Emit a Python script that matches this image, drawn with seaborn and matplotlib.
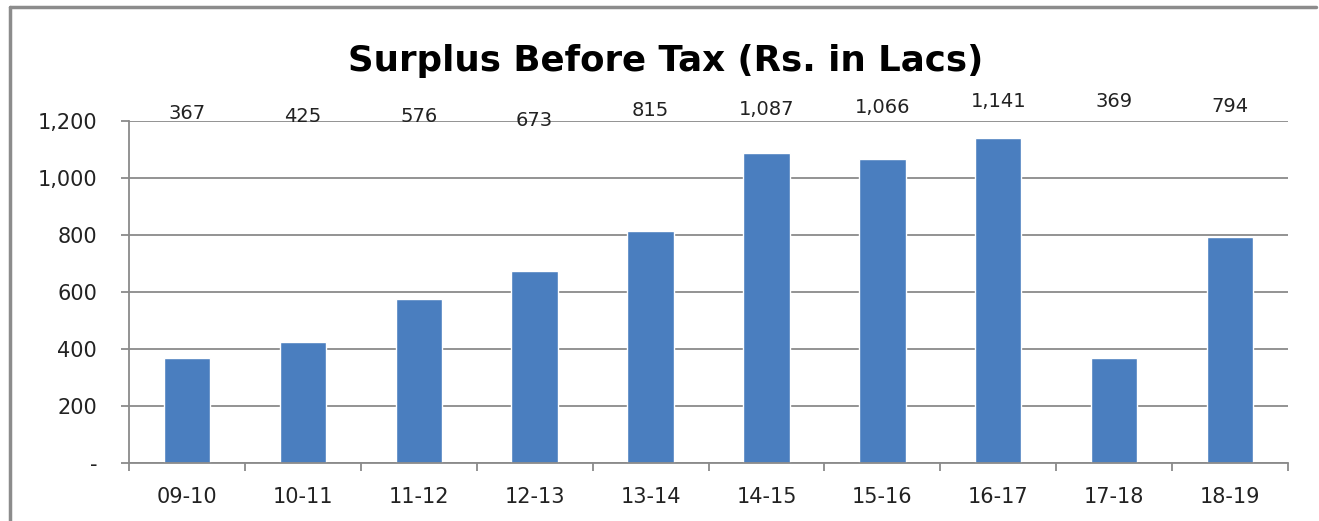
import matplotlib
matplotlib.use("Agg")
import matplotlib.pyplot as plt
from matplotlib.lines import Line2D
from matplotlib.ticker import FixedLocator, FuncFormatter
import seaborn as sns

# data
years = ["09-10", "10-11", "11-12", "12-13", "13-14",
         "14-15", "15-16", "16-17", "17-18", "18-19"]
surplus = [367, 425, 576, 673, 815, 1087, 1066, 1141, 369, 794]
# heights at which the value labels sit (they float above the plot area)
label_y = [1228, 1215, 1215, 1200, 1236, 1239, 1246, 1270, 1270, 1251]

title = "Surplus Before Tax (Rs. in Lacs)"

sns.set_style("white")
plt.rcParams["font.family"] = ["DejaVu Sans"]

fig = plt.figure(figsize=(13.19, 5.21), dpi=100)
ax = fig.add_axes([129 / 1319, 58 / 521, (1288 - 129) / 1319, (463 - 121) / 521])

sns.barplot(x=years, y=surplus, color="#4A7EBF", width=0.4, saturation=1, ax=ax)

ax.set_xlim(-0.5, len(years) - 0.5)
ax.set_ylim(0, 1200)
ax.set_yticks(range(0, 1201, 200))
ax.yaxis.set_major_formatter(FuncFormatter(lambda v, p: "-" if v == 0 else f"{int(v):,}"))
ax.grid(axis="y", color="#8A8A8A", linewidth=1.3)
ax.set_axisbelow(True)
ax.set_xlabel("")
ax.set_ylabel("")

for side in ["top", "right"]:
    ax.spines[side].set_visible(False)
for side in ["left", "bottom"]:
    ax.spines[side].set_color("#8A8A8A")
    ax.spines[side].set_linewidth(1.3)

ax.xaxis.set_minor_locator(FixedLocator([i - 0.5 for i in range(len(years) + 1)]))
ax.tick_params(axis="x", which="major", length=0, pad=17.5, labelsize=15, colors="#222222")
ax.tick_params(axis="x", which="minor", length=6, width=1.3, color="#8A8A8A", bottom=True)
ax.tick_params(axis="y", which="major", length=6, width=1.3, color="#8A8A8A", pad=17,
               labelsize=15, labelcolor="#222222", left=True)

for i, (v, ly) in enumerate(zip(surplus, label_y)):
    ax.text(i, ly, f"{v:,}", ha="center", va="center", fontsize=14,
            color="#222222", clip_on=False)

fig.text(0.505, 0.882, title, ha="center", va="center", fontsize=25.7,
         fontweight="bold", color="black")

# frame of the chart area: only the top and left edges show
fig.lines.append(Line2D([10 / 1319, 1316 / 1319], [514 / 521, 514 / 521],
                        transform=fig.transFigure, color="#8C8C8C", linewidth=2.5))
fig.lines.append(Line2D([10 / 1319, 10 / 1319], [0, 514 / 521],
                        transform=fig.transFigure, color="#8C8C8C", linewidth=2.5))

fig.savefig("out.png", dpi=100)
